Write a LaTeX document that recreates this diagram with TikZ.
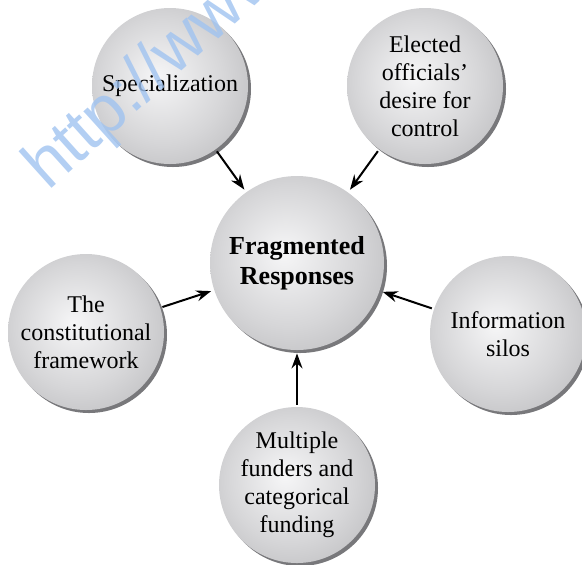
\documentclass[tikz,border=0pt]{standalone}
\usepackage{fontspec}
\setmainfont{Liberation Serif}
\newfontfamily\wmfont{Liberation Sans}
\usetikzlibrary{arrows.meta,shadows}
\definecolor{ballhi}{RGB}{246,246,247}
\definecolor{ballmid}{RGB}{214,214,216}
\definecolor{balledge}{RGB}{158,158,161}
\definecolor{ballshadow}{RGB}{120,120,123}
\definecolor{wmblue}{RGB}{160,195,240}
\pgfdeclareradialshading{ballshade}{\pgfpoint{-4bp}{3bp}}{color(0bp)=(ballhi); color(20bp)=(ballmid); color(50bp)=(balledge)}
\begin{document}
\begin{tikzpicture}[x=0.5pt, y=-0.5pt,
	ball/.style={circle, minimum size=78pt, inner sep=0pt, align=center, shade, shading=ballshade,
		drop shadow={shadow xshift=1.5pt, shadow yshift=-1.5pt, fill=ballshadow, opacity=1},
		font=\fontsize{12}{14}\selectfont},
	hub/.style={ball, minimum size=87pt, font=\fontsize{13}{15}\selectfont\bfseries},
	feeds/.style={-{Stealth[length=7.5pt, width=5.5pt, inset=2.5pt]}, line width=1pt, shorten >=1.5pt, shorten <=1pt},
	wmark/.style={text=wmblue, text opacity=0.8, inner sep=0pt, font=\wmfont\fontsize{34}{34}\selectfont}]
	\clip (0,0) rectangle (582,564);
	\node[hub] (frag) at (297,263) {Fragmented\\Responses};
	\foreach \name/\pos/\txt in {spec/{170,86}/Specialization, elect/{425,86}/{Elected\\officials'\\desire for\\control},
		constit/{86,332}/{The\\constitutional\\framework}, silos/{508,334}/{Information\\silos},
		funders/{297,485}/{Multiple\\funders and\\categorical\\funding}}
		\node[ball] (\name) at (\pos) {\txt};
	\foreach \name in {spec, elect, constit, silos, funders}
		\draw[feeds] (\name) -- (frag);
	\node[wmark, rotate=42, anchor=base west] (wm) at (48,192) {http://www.};
\end{tikzpicture}
\end{document}
